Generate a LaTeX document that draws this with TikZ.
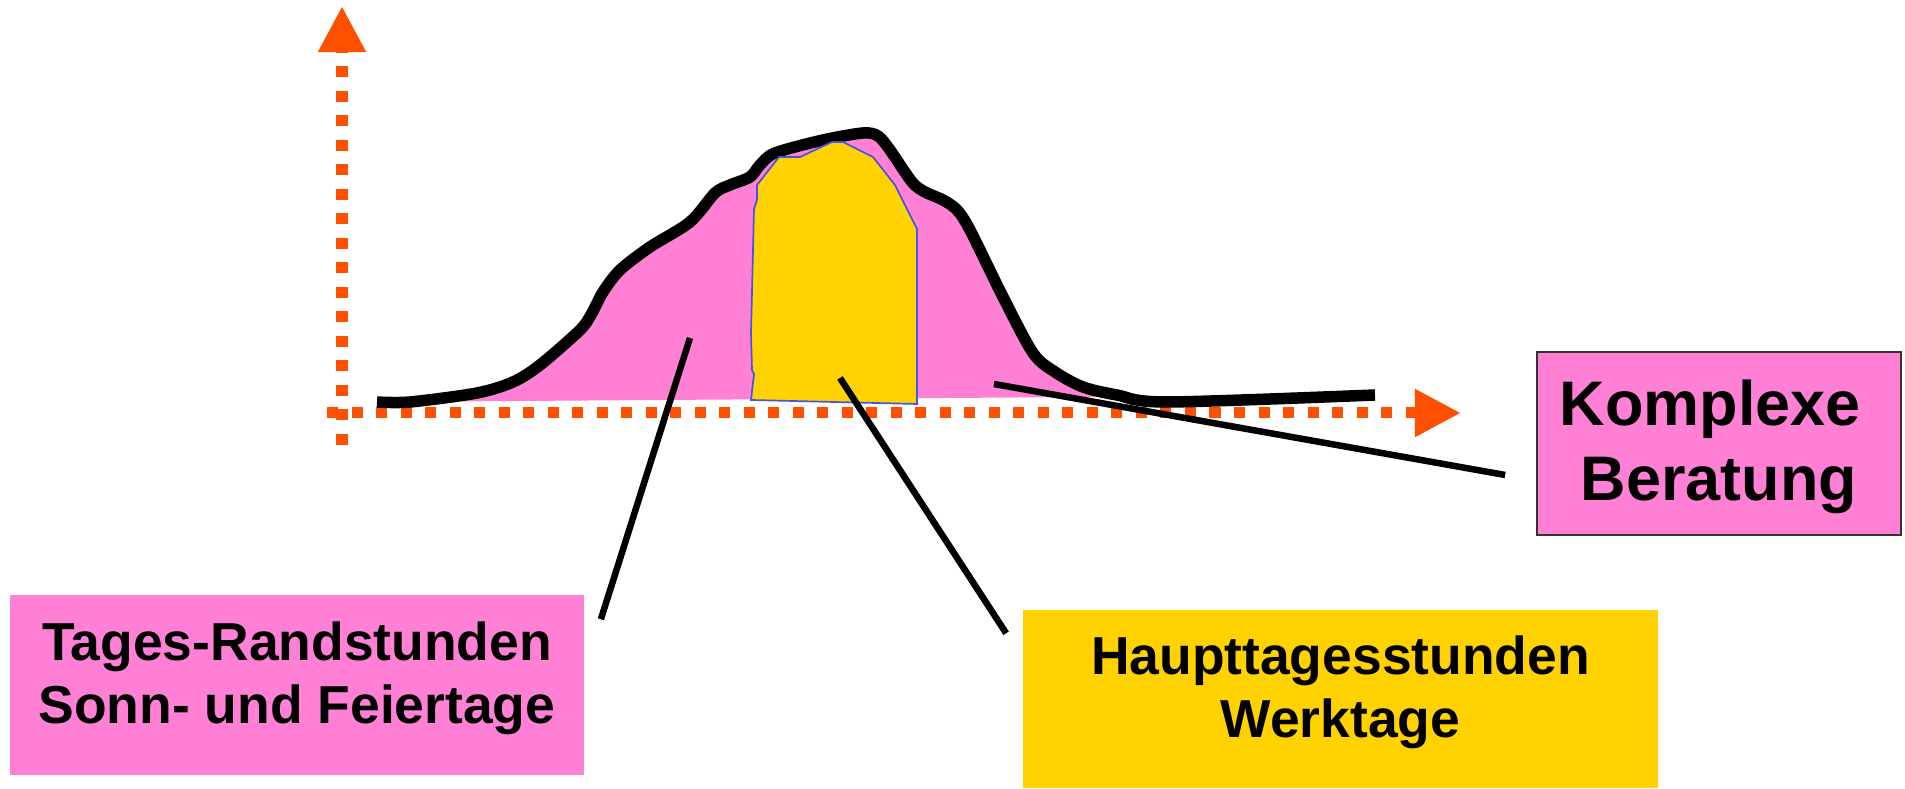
\documentclass[tikz,border=0pt]{standalone}
\usepackage{fontspec}
\setmainfont{Liberation Sans}
\definecolor{axisorange}{RGB}{255,80,0}
\definecolor{peakpink}{RGB}{255,128,212}
\definecolor{coreyellow}{RGB}{255,210,0}
\definecolor{edgeblue}{RGB}{70,85,225}
\usetikzlibrary{arrows.meta,positioning}

\begin{document}
\begin{tikzpicture}[x=0.01cm,y=-0.01cm,
    axis/.style={line width=0.11cm,axisorange,dash pattern=on 0.11cm off 0.135cm,-{Triangle[length=0.46cm,width=0.45cm]}},
    leader/.style={line width=0.065cm,black},
    infobox/.style={inner sep=0pt,align=center,text depth=0.25cm,font=\bfseries\fontsize{15.2pt}{18.1pt}\selectfont}]
        \useasboundingbox (0,0) rectangle (1905,789);
        % axes
        \coordinate (ybot) at (342,445);
        \coordinate (ytop) at (342,6);
        \coordinate (xleft) at (327,413);
        \coordinate (xright) at (1461,413);
        \draw[axis] (ybot)--(ytop);
        \draw[axis] (xleft)--(xright);
        % load curve, the open path is filled without its closing edge being stroked
        \filldraw[fill=peakpink,draw=black,line width=0.115cm] plot[smooth,tension=0.5] coordinates {
            (377,402) (410,402) (477,393) (513,382) (540,365) (580,330) (592,313) (603,292)
            (620,270) (650,247) (690,222) (715,193) (730,185) (750,177) (760,165) (775,153)
            (823,140) (863,133) (878,136) (890,150) (912,182) (925,192) (943,200) (957,210)
            (970,230) (1003,297) (1033,353) (1055,372) (1083,387) (1117,395) (1167,402) (1375,395)};
        \filldraw[fill=coreyellow,draw=edgeblue,line width=0.017cm] (751,400)--(754,374)--(752,370)--(751,333)
            --(754,209)--(757,200)--(757,185)--(779,157)--(800,157)--(832,142)--(843,142)--(873,157)
            --(895,185)--(917,229)--(917,404)--cycle;
        % labels
        \node[infobox,fill=peakpink,minimum width=5.74cm,minimum height=1.8cm] (randbox) at (297,685) {Tages-Randstunden\\Sonn- und Feiertage};
        \node[infobox,fill=coreyellow,minimum width=6.35cm,minimum height=1.78cm] (hauptbox) at (1340.5,699) {Haupttagesstunden\\Werktage};
        \node[infobox,fill=peakpink,draw=black!80,line width=0.4pt,minimum width=3.64cm,minimum height=1.83cm,text depth=0.06cm,
            font=\bfseries\fontsize{17.9pt}{21.3pt}\selectfont] (komplexbox) at (1719,443.5) {Komplexe\kern.28em\\Beratung};
        \coordinate (randtip) at (690,338);
        \coordinate (haupttip) at (840,378);
        \coordinate (komplextip) at (994,384);
        \draw[leader] (randtip)--([shift={(16,25)}]randbox.north east);
        \draw[leader] (haupttip)--([shift={(-16,24)}]hauptbox.north west);
        \draw[leader] (komplextip)--([shift={(-31,31.5)}]komplexbox.west);
      \end{tikzpicture}
\end{document}
